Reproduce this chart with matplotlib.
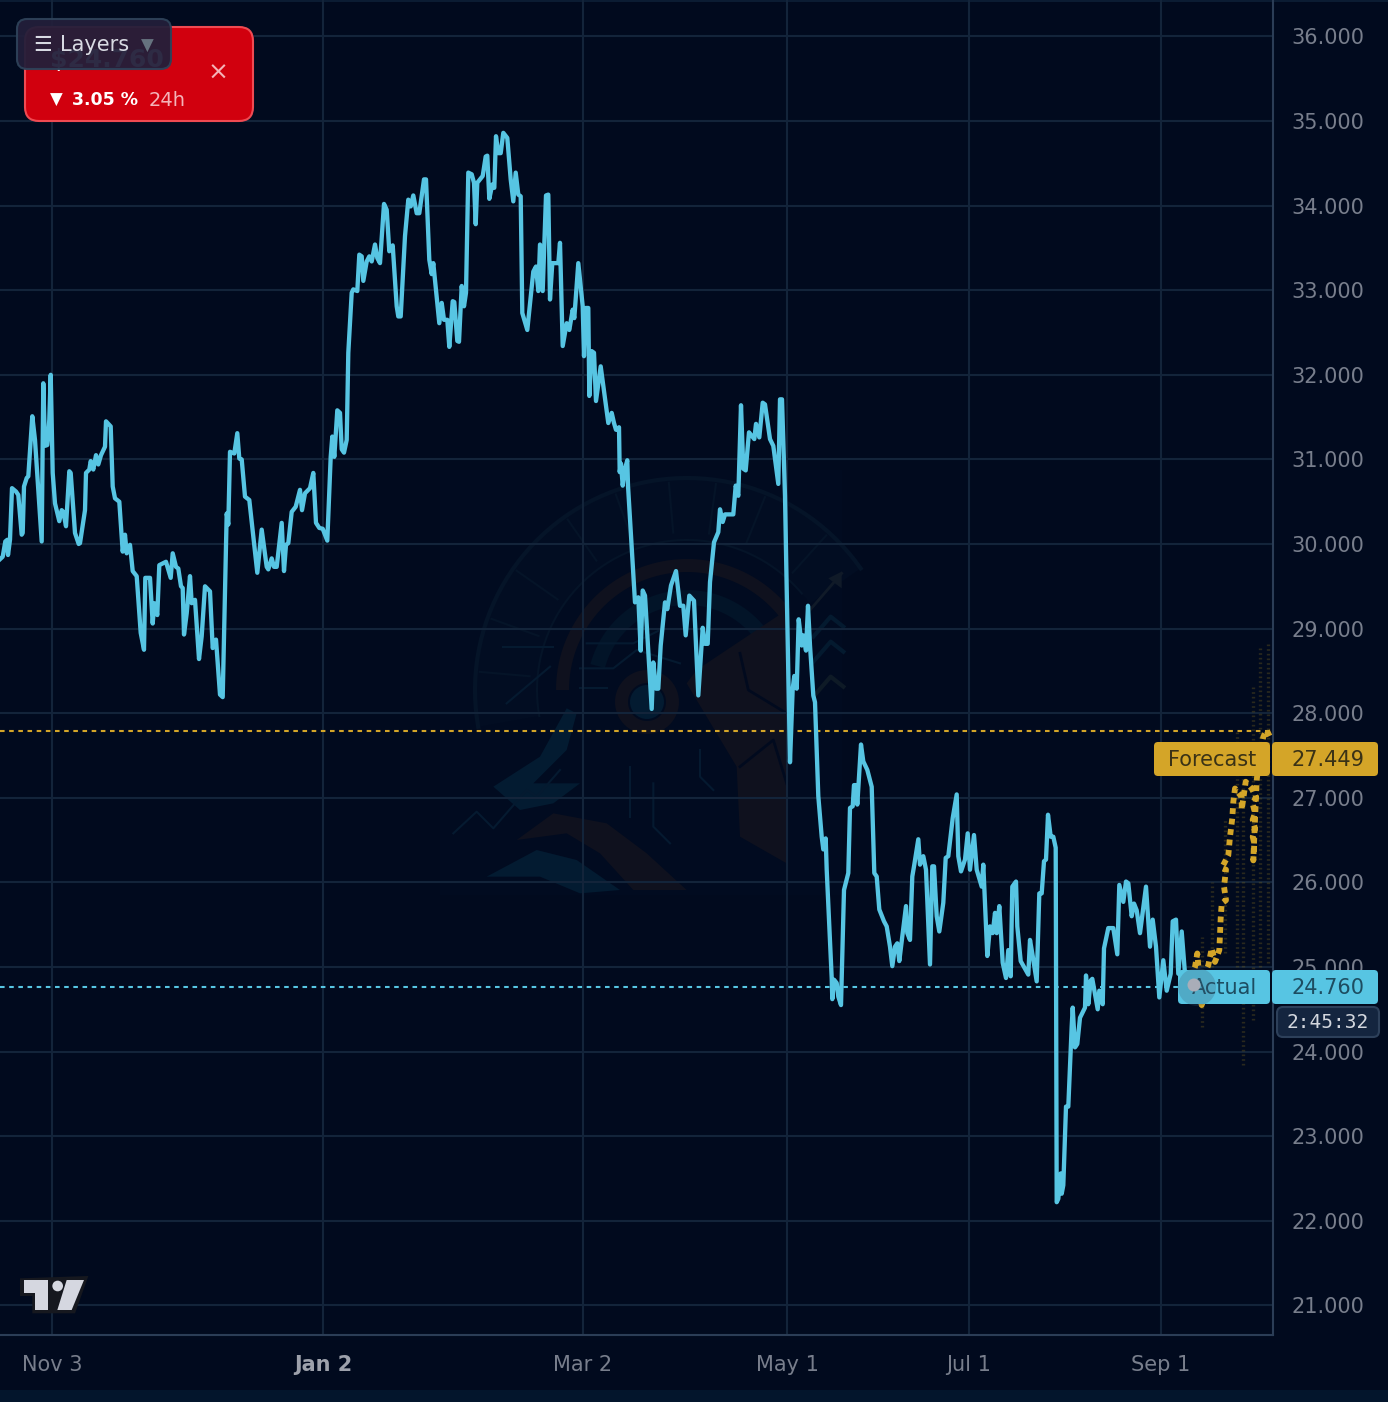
import numpy as np
import matplotlib
matplotlib.use("Agg")
import matplotlib.pyplot as plt
from matplotlib.patches import FancyBboxPatch, Circle, Polygon

# ---------- data ----------
bar_nov = [0,2.7,5.3,7.3,8,10,12,16,18.3,21.7,22.7,24,26.7,28.3,32.3,35,41.7,43.3,45,47.3,48.3,49.3,50.7,52.7,55,59.3,61.7,63.3,66,69.3,70.7,75,78.7,80,85,86,89.3,90.7,93.3,96,98.3,101,105,106,110.7,112.7,115,119.3,122.7,125,126.7,130,132.7,136.7,140.7,144,145.3,150,152.7,154.3,157.3,159.3,166,170.7,172.7,176,178.3,181,182.7,184,186.7,190,191.7,195,199,201.7,205,210,212.7,216,220,222.7,226.7,228.3,230,234.3,237.3,239.3,241.7,245,249.3,255,257.3,261.7,266.7,268.3,271.7,274,276.7,281.7,284,286,288.3,291.7,295.7,300,302,305,310,313.3,316,319.3,322.7,327.3,330.7,332.3,334.3,337.3]
price_nov = [29.82,29.85,30.03,30.05,29.87,30.05,30.66,30.62,30.58,30.11,30.13,30.68,30.78,30.80,31.51,31.23,30.03,31.90,31.16,31.17,31.29,31.47,32.00,30.84,30.48,30.27,30.40,30.38,30.21,30.86,30.84,30.13,30.00,30.01,30.40,30.84,30.88,30.98,30.88,31.05,30.94,31.05,31.15,31.45,31.39,30.68,30.54,30.50,29.91,30.11,29.89,29.99,29.68,29.62,28.95,28.75,29.60,29.60,29.06,29.30,29.16,29.75,29.79,29.60,29.89,29.73,29.71,29.50,29.48,28.93,29.18,29.62,29.30,29.34,28.64,28.91,29.50,29.44,28.77,28.87,28.22,28.19,30.36,30.23,31.09,31.07,31.31,31.01,31.00,30.56,30.52,29.91,29.66,30.17,29.73,29.70,29.83,29.73,29.73,30.25,29.68,29.99,30.01,30.38,30.44,30.64,30.40,30.60,30.66,30.84,30.25,30.19,30.18,30.04,31.03,31.27,31.03,31.58]
bar_jan = [340,341.7,344,346.7,348.3,351.7,353.3,357.3,359.3,361.7,363.3,366.7,369.3,371.7,375,377.3,380,384,386.7,389.3,392.7,396.7,398.3,400.7,405,408.3,410.7,413.3,416.7,419.3,424,426,429.3,431.7,433.3,439.3,441.7,444,447.3,449.3,452.7,454.3,457.3,459,461.7,464,466,468.3,471.7,474,475.7,477.3,482.7,485.7,487.3,489.3,492.3,494.3,496,498.3,500.7,503.3,507.3,510.7,513.3,515.7,518.3,520.7,522.3,527.3,533.3,536,538.3,540,542.7,546,548.3,550,552.3,558.3,560,562.7,566.7,569.3,572.7,574.3,578.3,582.7,584,585.7,588.3,589.3,591.7,594,596,600.7,603.3,608.3,611.7,614,616,618.3]
price_jan = [31.55,31.12,31.08,31.23,32.26,32.97,33.01,32.99,33.42,33.40,33.11,33.34,33.40,33.34,33.54,33.38,33.32,34.02,33.95,33.46,33.53,32.81,32.69,32.69,33.64,34.07,33.99,34.12,33.91,33.91,34.31,34.31,33.36,33.19,33.32,32.61,32.85,32.65,32.65,32.33,32.87,32.86,32.40,32.39,33.05,32.81,32.97,34.39,34.37,34.27,33.78,34.27,34.35,34.58,34.59,34.08,34.25,34.21,34.82,34.62,34.62,34.86,34.80,34.31,34.05,34.39,34.13,34.11,32.73,32.53,33.22,33.28,32.99,33.54,32.99,34.12,34.13,32.89,33.32,33.32,33.56,32.34,32.61,32.53,32.77,32.67,33.32,32.81,32.22,32.79,32.79,31.75,32.28,32.26,31.69,32.10,31.87,31.43,31.55,31.43,31.35,31.35]
bar_mar = [619,619.7,621,622.7,625,627.3,628,635,638.3,640.7,642.7,645,651.7,653.3,656,658.3,660.7,665,667.3,671,676,680,683.3,685.7,689.3,694,698.3,702.7,705,707.7,710,714,718.3,720,722.7,725,733.3,735.7,738.3,741,743.3,745.7,749,754.3,756,759.3,762.7,765,770,773.3,778.3,780,782,785,786.7,790,792.7,794.3,796.7,798.7,801.7,803.3,806,808,810,813.3,815]
price_mar = [31.38,30.85,30.95,30.69,30.89,30.99,30.69,29.31,29.37,28.74,29.45,29.39,28.05,28.60,28.29,28.29,28.80,29.31,29.23,29.51,29.68,29.27,29.27,28.92,29.39,29.33,28.21,29.01,28.82,28.82,29.55,30.02,30.14,30.41,30.26,30.35,30.35,30.69,30.57,31.64,30.89,30.87,31.32,31.24,31.42,31.26,31.67,31.65,31.24,31.16,30.71,31.71,31.71,30.57,29.47,27.42,28.29,28.44,28.29,29.11,28.80,28.92,28.74,29.27,28.80,28.21,28.13]
bar_may = [818.3,821.7,823.3,825.7,826.7,831.7,832.3,834,836.7,838.3,841,844,848.3,850,852.7,854,856,857.3,861,863.3,867.3,871.7,874.3,876.7,879.3,884,886.7,890,892.3,895,897.3,899.3,902.7,906,907.3,910,912.3,914.3,918.3,920,923.3,926,930,932.3,934,936.7,939.3,943.3,945.7,948.3,952.7,956.7,958.3,961,965,967.7,970,974,976.7,981.7,983.3,987.3,990,992.7,995,996.7,999.3,1002.7,1006,1008.3,1010.7,1012.3,1016,1017.3,1020.7,1028.3,1030,1032.7,1036.7,1039.3,1041.7,1044,1046,1048,1050.7,1053.3,1055.7]
price_may = [27.02,26.54,26.39,26.52,26.15,24.87,24.62,24.85,24.81,24.65,24.55,25.91,26.11,26.88,26.90,27.15,27.15,26.92,27.63,27.43,27.33,27.13,26.11,26.07,25.68,25.54,25.48,25.24,25.01,25.24,25.28,25.07,25.40,25.72,25.40,25.32,26.07,26.21,26.51,26.21,26.31,26.15,25.03,26.19,26.19,25.60,25.42,25.76,26.29,26.31,26.76,27.04,26.31,26.13,26.27,26.58,26.15,26.56,26.15,25.95,26.21,25.13,25.48,25.40,25.64,25.40,25.72,25.05,24.87,25.20,24.89,25.95,26.01,25.48,25.07,24.91,25.32,25.13,24.83,25.87,25.87,26.25,26.27,26.80,26.54,26.54,26.41]
bar_aug = [1056.7,1058.3,1060.7,1061.7,1063.3,1066,1068.3,1071.7,1072.7,1075,1077.3,1080,1085,1086,1088.3,1090.7,1092.3,1095,1097.7,1099.3,1102.7,1104,1108.3,1113.3,1117.3,1119.3,1123.3,1126,1128.3,1131.7,1134,1136.7,1140,1146,1150,1152.7,1156,1159.3,1163.3,1166.7,1170.7,1172.7,1176,1178.3,1181.7,1185,1187]
price_aug = [22.22,22.26,22.56,22.32,22.42,23.35,23.35,24.30,24.52,24.05,24.09,24.40,24.52,24.90,24.56,24.84,24.86,24.68,24.50,24.72,24.56,25.22,25.46,25.46,25.15,25.97,25.77,26.01,25.99,25.60,25.75,25.67,25.40,25.95,25.24,25.56,25.24,24.64,25.08,24.72,24.92,25.54,25.56,24.92,25.42,24.92,24.76]

forecast_bar = [1187,1195,1197.3,1200,1201.7,1205,1208.3,1211.7,1215,1219.3,1220,1220.7,1221.7,1226,1224,1226,1221.7,1228.3,1230,1232.3,1233.3,1235,1241.7,1241.7,1245.7,1251.7,1256,1252.7,1255,1252.7,1255,1252.7,1254.3,1253.3,1256.7,1260,1263.3,1266.7,1270]
forecast_price = [24.76,25.00,25.16,24.77,24.55,24.93,25.02,25.22,25.06,25.20,25.38,25.58,25.75,25.79,25.95,26.15,26.17,26.32,26.54,26.76,26.95,27.11,27.01,26.86,27.19,27.11,27.01,26.93,26.82,26.74,26.64,26.54,26.46,26.26,27.21,27.53,27.72,27.80,27.72]

band_bar = [1201.7,1211.7,1225,1237,1242.7,1253,1260,1268]
band_high = [25.35,26.00,26.76,27.80,27.25,28.31,28.78,28.83]
band_low = [24.29,25.00,25.17,25.00,23.84,24.37,25.00,25.05]

price_ticks = [36,35,34,33,32,31,30,29,28,27,26,25,24,23,22,21]
date_ticks = [52,323,583,787,969,1161]
date_labels = ["Nov 3","Jan 2","Mar 2","May 1","Jul 1","Sep 1"]
forecast_level = 27.79
actual_level = 24.76

def _join(bars, prices):
    out_b, out_p = [], []
    for b, p in zip(bars, prices):
        n = min(len(b), len(p))
        out_b += b[:n]; out_p += p[:n]
    return out_b, out_p
actual_bar, actual_price = _join((bar_nov, bar_jan, bar_mar, bar_may, bar_aug),
                                 (price_nov, price_jan, price_mar, price_may, price_aug))

# ---------- colours ----------
BG = "#010a1e"; GRID = "#13243a"; AXIS = "#2b3d56"; CYAN = "#57c5e3"; GOLD = "#d4a528"; TXT = "#787e8c"

W, H = 1388, 1402
fig = plt.figure(figsize=(W/100, H/100), dpi=100, facecolor=BG)
plt.rcParams['font.family'] = ['DejaVu Sans']

# ---- pixel-space background layer (watermark, strips) ----
bg = fig.add_axes([0, 0, 1, 1], zorder=0)
bg.set_xlim(0, W); bg.set_ylim(H, 0); bg.axis("off")
bg.fill_between([0, W], 1390, H, color="#03152c", lw=0)
bg.fill_between([0, W], 0, 2, color="#0b1c33", lw=0)

def arc(cx, cy, r, a0, a1, n=60):
    t = np.radians(np.linspace(a0, a1, n))
    return np.c_[cx + r*np.cos(t), cy - r*np.sin(t)]
def band(cx, cy, r0, r1, a0, a1, **kw):
    bg.add_patch(Polygon(np.r_[arc(cx, cy, r1, a0, a1), arc(cx, cy, r0, a1, a0)], closed=True, lw=0, **kw))
def z3(*pts):
    a = np.array(pts, float)
    return np.c_[420 + a[:, 0]/3, 450 + a[:, 1]/3]

BROWN = "#0f111e"; BLUE = "#021428"; BLUE2 = "#031b31"; LINE = "#051428"
bg.fill_between([440, 842], 470, 895, color="#010b20", lw=0)
# fan of the helmet crest
band(687, 690, 150, 212, 35, 190, color="#020d22")
bg.plot(*arc(687, 690, 212, 35, 190).T, color=LINE, lw=3)
bg.plot(*arc(687, 690, 150, 40, 190).T, color=LINE, lw=1.5)
for a in (48, 68, 82, 95, 110, 125, 145, 160, 175):
    p0 = arc(687, 690, 158, a, a, 1)[0]; p1 = arc(687, 690, 208, a, a, 1)[0]
    bg.plot([p0[0], p1[0]], [p0[1], p1[1]], color=LINE, lw=1.5)
# big brown ring and eye
band(687, 690, 118, 131, 38, 180, color=BROWN)
band(687, 690, 85, 100, 30, 165, color=BLUE)
band(647, 702, 19, 32, 0, 360, color=BROWN)
bg.add_patch(Circle((647, 702), 17, color=BLUE2, lw=0))
# cheek plates
bg.add_patch(Polygon(z3((830,660),(1100,480),(1100,1240),(960,1160),(950,950),(800,700)), closed=True, color=BROWN, lw=0))
bg.plot(*z3((960,610),(985,720),(1100,790)).T, color=BG, lw=2)
bg.plot(*z3((960,950),(1060,870),(1100,1000)).T, color=BG, lw=2)
# blue crescent and lower bands
bg.add_patch(Polygon(z3((440,775),(470,790),(440,900),(340,1000),(480,1000),(400,1060),(300,1080),(220,1010),(360,920)), closed=True, color=BLUE2, lw=0))
bg.add_patch(Polygon(z3((290,1170),(400,1090),(560,1120),(680,1210),(800,1320),(640,1320),(540,1210),(440,1150)), closed=True, color=BROWN, lw=0))
bg.add_patch(Polygon(z3((200,1280),(350,1200),(470,1230),(600,1320),(480,1330),(360,1280)), closed=True, color=BLUE2, lw=0))
# circuit traces and zig-zag
for pts in [((100,1150),(170,1085),(220,1135),(320,1020),(350,1040),(420,960)),
            ((480,655),(580,655),(650,600),(780,640)), ((500,580),(640,580),(720,540)),
            ((250,590),(400,590)), ((260,760),(390,650)), ((480,715),(560,715)),
            ((630,950),(630,1100)), ((700,1000),(700,1130),(750,1180)), ((840,900),(840,980),(880,1020))]:
    bg.plot(*z3(*pts).T, color="#051a30", lw=1.5)
bg.plot(*z3((1170,480),(1265,370)).T, color="#101a28", lw=2)
bg.add_patch(Polygon(z3((1265,365),(1225,385),(1265,415)), closed=True, color="#101a28", lw=0))
for dy, c in ((0, "#041a2f"), (75, "#041a2f"), (180, "#0e1a26")):
    bg.plot(*z3((1180,560+dy),(1232,500+dy),(1270,530+dy)).T, color=c, lw=3)

# ---- main chart ----
ax = fig.add_axes([0, 1-1335/H, 1273/W, 1335/H], zorder=1)
ax.patch.set_alpha(0)
ax.set_xlim(0, 1273)
ax.set_ylim(25 + (967-1335)/84.6, 25 + 967/84.6)
ax.yaxis.tick_right()
ax.set_yticks(price_ticks)
ax.set_yticklabels([f"{t}.000" for t in price_ticks], color=TXT, fontsize=15)
ax.set_xticks(date_ticks)
ax.set_xticklabels(date_labels, color=TXT, fontsize=15)
ax.get_xticklabels()[1].set_color("#9da1ab"); ax.get_xticklabels()[1].set_fontweight("bold")
ax.tick_params(axis="both", length=0)
ax.tick_params(axis="y", pad=13.5)
ax.tick_params(axis="x", pad=14.5)
ax.grid(True, color=GRID, lw=1.5)
ax.set_axisbelow(True)
for s in ("top", "left"):
    ax.spines[s].set_visible(False)
for s in ("right", "bottom"):
    ax.spines[s].set_color(AXIS); ax.spines[s].set_linewidth(1.5)

ax.axhline(forecast_level, color=GOLD, lw=1.5, dashes=(2.2, 2.2), zorder=2)
ax.plot([0, 1180], [actual_level]*2, color=CYAN, lw=1.5, dashes=(2.2, 2.2), zorder=2)
ax.vlines(band_bar, band_low, band_high, color="#6a5a20", lw=2.4, linestyles=(0, (0.5, 0.9)), alpha=0.4, zorder=2)
ax.plot(forecast_bar, forecast_price, color=GOLD, lw=4.2, dashes=(1.0, 0.8), dash_capstyle="butt", zorder=3)
ax.plot(actual_bar, actual_price, color=CYAN, lw=3.1, solid_joinstyle="round", zorder=4)

# ---- pixel-space overlay for the interface elements ----
ui = fig.add_axes([0, 0, 1, 1], zorder=5)
ui.set_xlim(0, W); ui.set_ylim(H, 0); ui.axis("off"); ui.patch.set_alpha(0)

def box(x0, y0, x1, y1, fc, ec="none", r=4, lw=0, alpha=None, z=5):
    ui.add_patch(FancyBboxPatch((x0+r, y0+r), x1-x0-2*r, y1-y0-2*r, boxstyle=f"round,pad={r},rounding_size={r}",
                                fc=fc, ec=ec, lw=lw, alpha=alpha, zorder=z))

# price tags
box(1154, 742, 1270, 776, GOLD, r=4)
box(1272, 742, 1378, 776, GOLD, r=4)
ui.text(1212, 760, "Forecast", ha="center", va="center", fontsize=15, color="#3a3216", zorder=6)
ui.text(1328, 760, "27.449", ha="center", va="center", fontsize=15, color="#3a3216", zorder=6)
box(1178, 970, 1270, 1004, CYAN, r=4)
box(1272, 970, 1378, 1004, CYAN, r=4)
ui.text(1224, 988, "Actual", ha="center", va="center", fontsize=15, color="#1d4d61", zorder=6)
ui.text(1328, 988, "24.760", ha="center", va="center", fontsize=15, color="#1d4d61", zorder=6)
ui.add_patch(Circle((1197, 987), 19, color="#3c5a72", alpha=0.25, lw=0, zorder=7))
ui.add_patch(Circle((1194, 985), 6.5, color="#a9adb8", lw=0, zorder=7))
box(1277, 1007, 1379, 1037, "#14253f", ec="#2d405a", r=6, lw=1.5)
ui.text(1328, 1022, "2:45:32", ha="center", va="center", fontsize=14, color="#d3d7de",
        family="DejaVu Sans Mono", zorder=6)

# red ticker card and Layers panel
box(25, 27, 253, 121, "#d1000e", ec="#ef4a52", r=14, lw=1.5, z=5)
ui.text(50, 60, "$24.760", ha="left", va="center", fontsize=18, fontweight="bold", color="white", zorder=6)
ui.text(56, 100, "▼", ha="center", va="center", fontsize=12, color="white", zorder=6)
ui.text(72, 100, "3.05 %", ha="left", va="center", fontsize=12.5, fontweight="bold", color="white", zorder=6)
ui.text(149, 100, "24h", ha="left", va="center", fontsize=14, color="#f4b3b8", zorder=6)
ui.text(218, 73, "×", ha="center", va="center", fontsize=18, color="#f4b3b8", zorder=6)
box(17, 19, 171, 69, "#221f3a", ec="#2e4259", r=10, lw=1.5, alpha=0.95, z=7)
ui.text(43, 45, "☰", ha="center", va="center", fontsize=15, color="#d8dae2", zorder=8)
ui.text(60, 45, "Layers", ha="left", va="center", fontsize=15, color="#d8dae2", zorder=8)
ui.text(147, 46, "▼", ha="center", va="center", fontsize=12, color="#66727f", zorder=8)

# TradingView mark
def z4(*pts):
    a = np.array(pts, float)
    return np.c_[a[:, 0]/3, 1260 + a[:, 1]/3]
ui.add_patch(Polygon(z4((60,55),(265,48),(225,160),(97,160),(97,108),(60,108)), closed=True, color="#16181f", lw=0, zorder=5))
ui.add_patch(Polygon(z4((72,60),(145,60),(145,150),(105,150),(105,100),(72,100)), closed=True, color="#d5d7e0", lw=0, zorder=6))
ui.add_patch(Polygon(z4((200,60),(252,60),(215,150),(172,150)), closed=True, color="#d5d7e0", lw=0, zorder=6))
ui.add_patch(Circle((173/3, 1260+78/3), 16/3, color="#d5d7e0", lw=0, zorder=6))

fig.savefig("out.png", dpi=100, facecolor=BG)
